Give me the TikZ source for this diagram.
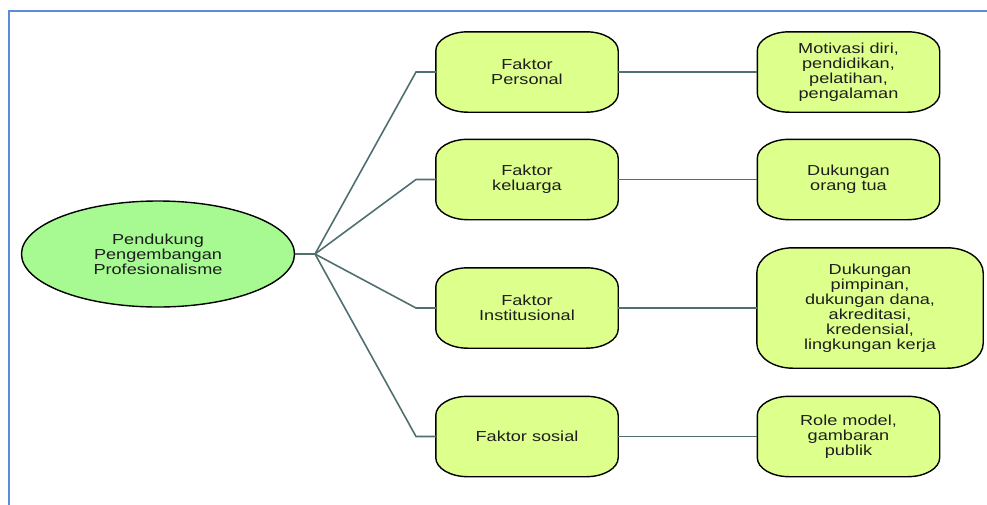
\documentclass[tikz,border=0pt]{standalone}
\usepackage{fontspec}
\setmainfont{Liberation Sans}[FakeStretch=1.25]
\usepackage{tikz}
\usetikzlibrary{positioning,shapes.geometric,backgrounds}

\definecolor{hijau}{HTML}{A6FA91}
\definecolor{kuning}{HTML}{DDFF8C}
\definecolor{garisabu}{HTML}{4F6F70}
\definecolor{bingkai}{HTML}{5B8BD9}
\definecolor{teks}{HTML}{1E1E1E}

% outline of a box with elliptical corners, drawn behind the node
\newcommand{\kotak}[3]{%
  \begin{scope}[on background layer]
  \path[fill=kuning,draw=black,line width=1.4pt]
    ([xshift=#2]#1.north west) -- ([xshift=-#2]#1.north east)
    arc[start angle=90,end angle=0,x radius=#2,y radius=#3]
    -- ([yshift=#3]#1.south east)
    arc[start angle=0,end angle=-90,x radius=#2,y radius=#3]
    -- ([xshift=#2]#1.south west)
    arc[start angle=270,end angle=180,x radius=#2,y radius=#3]
    -- ([yshift=-#3]#1.north west)
    arc[start angle=180,end angle=90,x radius=#2,y radius=#3] -- cycle;
  \end{scope}}

\begin{document}
\begin{tikzpicture}
                [x=1pt,y=-1pt,
                kt/.style={minimum width=182pt,minimum height=80pt,inner sep=0pt,
                  align=center,text=teks,font=\fontsize{14.5}{15}\selectfont},
                garis/.style={draw=garisabu,line width=1.6pt}]
                \useasboundingbox (0,0) rectangle (987,504);
                \draw[bingkai,line width=2.2pt] (9,520) -- (9,11) -- (1000,11);
                \node[ellipse,draw=black,line width=1.4pt,fill=hijau,
                  minimum width=273pt,minimum height=106pt,inner sep=0pt,
                  align=center,text=teks,font=\fontsize{14.5}{15}\selectfont]
                  (pusat) at (158,254) {Pendukung\\Pengembangan\\Profesionalisme};
                % second column
                \node[kt] (fp) at (527,72) {Faktor\\Personal};
                \node[kt] (fk) at (527,179.5) {Faktor\\keluarga};
                \node[kt] (fi) at (527,308) {Faktor\\Institusional};
                \node[kt] (fs) at (527,436.5) {Faktor sosial};
                % third column
                \node[kt] (hp) at (848.5,72) {Motivasi diri,\\pendidikan,\\pelatihan,\\pengalaman};
                \node[kt] (hk) at (848.5,179.5) {Dukungan\\orang tua};
                \node[kt,minimum width=226pt,minimum height=120pt] (hi) at (870,308)
                  {Dukungan\\pimpinan,\\dukungan dana,\\akreditasi,\\kredensial,\\lingkungan kerja};
                \node[kt] (hs) at (848.5,436.5) {Role model,\\gambaran\\publik};
                \kotak{fp}{32pt}{19pt}
                \kotak{fk}{32pt}{19pt}
                \kotak{fi}{32pt}{19pt}
                \kotak{fs}{32pt}{19pt}
                \kotak{hp}{32pt}{19pt}
                \kotak{hk}{32pt}{19pt}
                \kotak{hi}{36pt}{25pt}
                \kotak{hs}{32pt}{19pt}
                \coordinate (j) at (315,254);
                \coordinate (c1) at (416,72);
                \coordinate (c2) at (416,179.5);
                \coordinate (c3) at (416,308);
                \coordinate (c4) at (416,436.5);
                \draw[garis] (pusat.east) -- (j);
                \draw[garis] (j) -- (c1) -- (fp.west);
                \draw[garis] (j) -- (c2) -- (fk.west);
                \draw[garis] (j) -- (c3) -- (fi.west);
                \draw[garis] (j) -- (c4) -- (fs.west);
                \draw[garis] (fp.east) -- (hp.west);
                \draw[garis] (fk.east) -- (hk.west);
                \draw[garis] (fi.east) -- (hi.west);
                \draw[garis] (fs.east) -- (hs.west);
            \end{tikzpicture}
\end{document}
